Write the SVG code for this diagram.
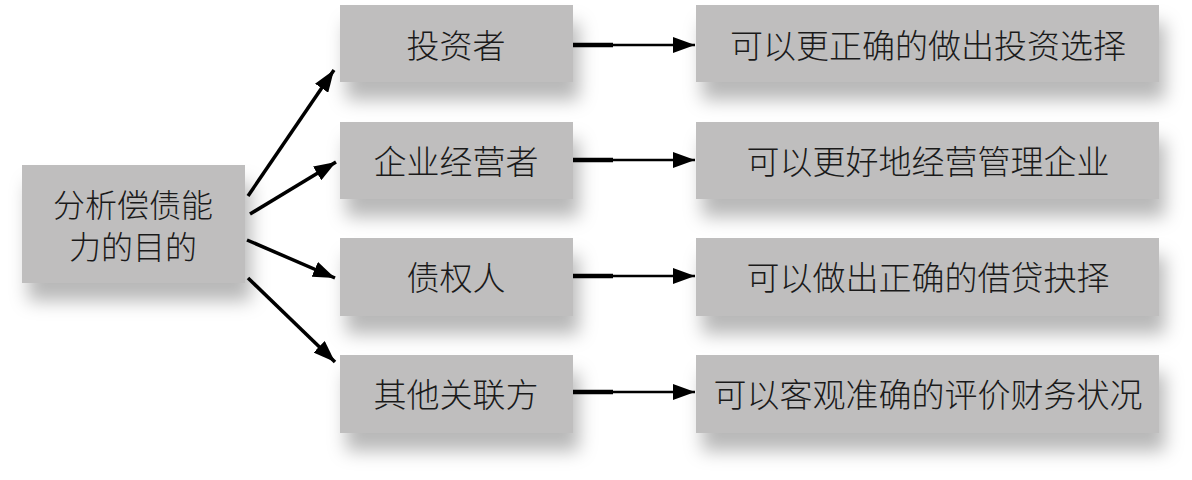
<svg xmlns="http://www.w3.org/2000/svg" width="1192" height="480" viewBox="0 0 1192 480">
<defs>
<filter id="sh" x="-20%" y="-30%" width="150%" height="200%">
<feDropShadow dx="6" dy="18" stdDeviation="9" flood-color="#000" flood-opacity="0.28"/>
</filter>
<marker id="ah2" viewBox="0 0 22 16" refX="22" refY="8" markerWidth="22" markerHeight="16" orient="auto" markerUnits="userSpaceOnUse">
<path d="M0,0 L22,8 L0,16 z" fill="#000"/>
</marker>
</defs>
<style>
.box{fill:#bfbebe;filter:url(#sh)}
.t{font-family:"Noto Sans CJK SC","Noto Sans",sans-serif;font-size:33px;font-weight:300;fill:#1a1a1a;text-anchor:middle;dominant-baseline:central}
.t2{font-size:32px}
.c{stroke:#000;stroke-width:3.5;fill:none}
.c2{stroke:#000;stroke-width:2.6;fill:none}
</style>
<rect width="1192" height="480" fill="#fff"/>
<g id="root"><rect class="box" x="22" y="165" width="223" height="118"/><text class="t t2" x="133" y="203">分析偿债能</text><text class="t t2" x="133" y="245">力的目的</text></g>
<g id="n1"><rect class="box" x="340" y="5" width="233" height="77"/><text class="t" x="456" y="44">投资者</text></g>
<g id="n2"><rect class="box" x="340" y="122" width="233" height="77"/><text class="t" x="456" y="160">企业经营者</text></g>
<g id="n3"><rect class="box" x="340" y="238" width="233" height="78"/><text class="t" x="456" y="276">债权人</text></g>
<g id="n4"><rect class="box" x="340" y="355" width="233" height="78"/><text class="t" x="456" y="393">其他关联方</text></g>
<g id="r1"><rect class="box" x="696" y="5" width="463" height="77"/><text class="t" x="928" y="44">可以更正确的做出投资选择</text></g>
<g id="r2"><rect class="box" x="696" y="122" width="463" height="77"/><text class="t" x="928" y="160">可以更好地经营管理企业</text></g>
<g id="r3"><rect class="box" x="696" y="238" width="463" height="78"/><text class="t" x="928" y="276">可以做出正确的借贷抉择</text></g>
<g id="r4"><rect class="box" x="696" y="355" width="463" height="78"/><text class="t" x="928" y="393">可以客观准确的评价财务状况</text></g>
<g id="connectors">
<line class="c" x1="248" y1="196" x2="334" y2="70" marker-end="url(#ah2)"/>
<line class="c" x1="250" y1="214" x2="336" y2="162" marker-end="url(#ah2)"/>
<line class="c" x1="247" y1="240" x2="335" y2="278" marker-end="url(#ah2)"/>
<line class="c" x1="248" y1="278" x2="335" y2="362" marker-end="url(#ah2)"/>
<line x1="573" y1="45" x2="613" y2="45" stroke="#000" stroke-width="4.5"/>
<line class="c2" x1="612" y1="45" x2="695" y2="45" marker-end="url(#ah2)"/>
<line x1="573" y1="160" x2="613" y2="160" stroke="#000" stroke-width="4.5"/>
<line class="c2" x1="612" y1="160" x2="695" y2="160" marker-end="url(#ah2)"/>
<line x1="573" y1="276" x2="613" y2="276" stroke="#000" stroke-width="4.5"/>
<line class="c2" x1="612" y1="276" x2="695" y2="276" marker-end="url(#ah2)"/>
<line x1="573" y1="392" x2="613" y2="392" stroke="#000" stroke-width="4.5"/>
<line class="c2" x1="612" y1="392" x2="695" y2="392" marker-end="url(#ah2)"/>
</g>
</svg>
